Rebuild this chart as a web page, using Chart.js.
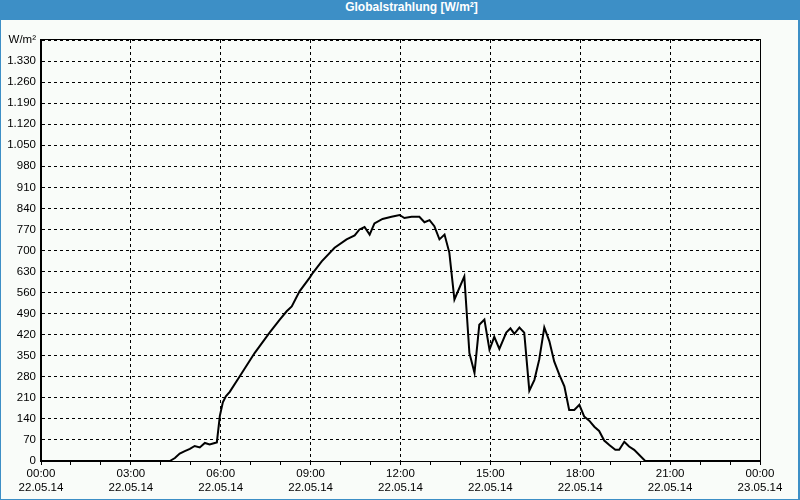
<!DOCTYPE html>
<html>
<head>
<meta charset="utf-8">
<script src="https://cdn.jsdelivr.net/npm/chart.js@4/dist/chart.umd.min.js"></script>
<style>
  html, body { margin: 0; padding: 0; background: #f9fcf9; }
  #wrap { position: relative; width: 800px; height: 500px; box-sizing: border-box;
          border-left: 1px solid #3d8fc6; border-right: 2px solid #3d8fc6; border-bottom: 1px solid #3d8fc6;
          background: #f9fcf9; overflow: hidden; }
  #title { height: 20px; line-height: 21px; background: #3d8fc6; color: #ffffff;
           font: bold 12px "Liberation Sans", Arial, sans-serif; text-align: center; padding-left: 24px; }
  #c { display: block; }
</style>
</head>
<body>
<div id="wrap">
  <div id="title">Globalstrahlung [W/m²]</div>
  <canvas id="c" width="797" height="479" style="width:797px;height:479px"></canvas>
</div>
<script>
// Time in hours (22.05.14, 00:00 = 0)
const hours = [0, 4.3, 4.47, 4.63, 4.8, 4.97, 5.13, 5.3, 5.47, 5.63, 5.8, 5.87, 5.97, 6.07, 6.17, 6.3,
  6.63, 7.13, 7.63, 7.97, 8.2, 8.37, 8.63, 8.97, 9.07, 9.37, 9.8, 10.2, 10.47, 10.63, 10.8, 10.97,
  11.13, 11.4, 11.7, 11.97, 12.13, 12.37, 12.63, 12.8, 12.97, 13.13, 13.3, 13.47, 13.63, 13.8, 14.13,
  14.3, 14.47, 14.63, 14.8, 14.97, 15.13, 15.3, 15.53, 15.67, 15.8, 15.97, 16.13, 16.3, 16.47, 16.63,
  16.8, 16.97, 17.13, 17.3, 17.47, 17.63, 17.8, 17.97, 18.13, 18.3, 18.47, 18.63, 18.8, 18.97, 19.17,
  19.3, 19.47, 19.63, 19.8, 20.17, 24];
// Global radiation W/m²
const radiation = [0, 0, 10, 25, 33, 40, 50, 45, 60, 55, 60, 62, 150, 195, 215, 230,
  281, 359, 427, 470, 498, 514, 564, 610, 625, 664, 709, 737, 750, 770, 778, 753,
  790, 805, 812, 818, 808, 812, 812, 794, 801, 781, 737, 753, 693, 537, 614,
  359, 293, 453, 470, 370, 413, 373, 427, 441, 423, 444, 427, 234, 270, 337,
  444, 398, 331, 287, 248, 170, 170, 187, 148, 134, 114, 100, 68, 53, 37,
  37, 64, 48, 37, 0, 0];
const timeLabels = ["00:00", "03:00", "06:00", "09:00", "12:00", "15:00", "18:00", "21:00", "00:00"];
const dateLabels = ["22.05.14", "22.05.14", "22.05.14", "22.05.14", "22.05.14", "22.05.14", "22.05.14", "22.05.14", "23.05.14"];
const yMax = 1400, yStep = 70, unitLabel = "W/m²";

const points = hours.map((h, i) => ({ x: h, y: radiation[i] }));
const font = { family: '"Liberation Sans", Arial, sans-serif', size: 11.5 };

const frame = {
  id: 'frame',
  afterDraw(chart) {
    const { ctx, chartArea: a } = chart;
    ctx.save();
    ctx.strokeStyle = '#000';
    ctx.lineWidth = 1;
    ctx.strokeRect(Math.round(a.left) - 0.5, Math.round(a.top) - 0.5, Math.round(a.right - a.left) + 1, Math.round(a.bottom - a.top) + 1);
    ctx.restore();
  }
};

new Chart(document.getElementById('c'), {
  type: 'line',
  data: { datasets: [{ data: points, borderColor: '#000', borderWidth: 2, pointRadius: 0, tension: 0, fill: false, clip: 4 }] },
  options: {
    responsive: false,
    animation: false,
    events: [],
    layout: { padding: { top: 20, right: 38, left: 0, bottom: 0 } },
    plugins: { legend: { display: false }, title: { display: false }, tooltip: { enabled: false } },
    scales: {
      x: {
        type: 'linear', min: 0, max: 24,
        afterFit(s) { s.height = 38; },
        ticks: {
          stepSize: 1, autoSkip: false, maxRotation: 0, minRotation: 0, padding: 2,
          color: '#000', font,
          callback: (v) => (v % 3 === 0 ? [timeLabels[v / 3], dateLabels[v / 3]] : '')
        },
        grid: {
          color: (c) => (c.tick && c.tick.value % 3 === 0 ? '#000' : 'rgba(0,0,0,0)'),
          tickColor: '#000', tickLength: 4, lineWidth: 1, drawTicks: true
        },
        border: { display: true, color: '#000', width: 1, dash: [3, 3] }
      },
      y: {
        min: 0, max: yMax,
        afterFit(s) { s.width = 40; },
        ticks: {
          stepSize: yStep, color: '#000', font, padding: 5,
          callback: (v) => (v === yMax ? unitLabel : v.toLocaleString('de-DE'))
        },
        grid: { color: '#000', lineWidth: 1, drawTicks: false },
        border: { display: true, color: '#000', width: 1, dash: [3, 3] }
      }
    }
  },
  plugins: [frame]
});
</script>
</body>
</html>
